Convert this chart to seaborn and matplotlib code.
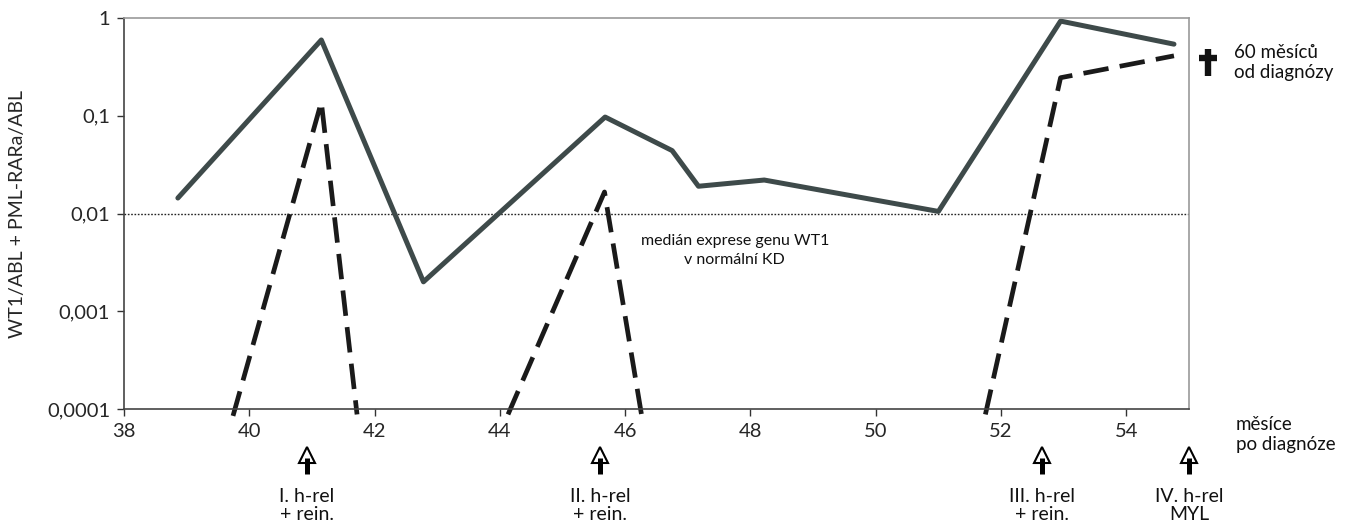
import matplotlib
matplotlib.use("Agg")
import matplotlib.pyplot as plt
import matplotlib.transforms as mtransforms
from matplotlib.lines import Line2D
import seaborn as sns
import pandas as pd

# ---- data ----
wt1_x = [38.86, 41.15, 42.78, 45.68, 46.75, 47.17, 48.22, 51.0, 52.95, 54.76]
wt1_y = [0.0144, 0.596, 0.0020, 0.097, 0.044, 0.019, 0.022, 0.0105, 0.93, 0.54]

pml_x = [39.74, 41.15, 41.72, 44.13, 45.67, 46.26, 51.75, 52.95, 54.76]
pml_y = [0.000085, 0.138, 0.000088, 0.000088, 0.0166, 0.000088, 0.000088, 0.245, 0.41]
pml_segment = [1, 1, 1, 2, 2, 2, 3, 3, 3]

median_level = 0.01

x_ticks = [38, 40, 42, 44, 46, 48, 50, 52, 54]
y_ticks = [0.0001, 0.001, 0.01, 0.1, 1]
y_ticklabels = ["0,0001", "0,001", "0,01", "0,1", "1"]

event_x = [40.92, 45.6, 52.66, 55.0]
event_labels = ["I. h-rel\n+ rein.", "II. h-rel\n+ rein.", "III. h-rel\n+ rein.", "IV. h-rel\nMYL"]

# ---- style ----
sns.set_theme(style="white")
plt.rcParams["font.family"] = ["Lato", "DejaVu Sans"]

fig = plt.figure(figsize=(13.45, 5.22), dpi=100)
ax = fig.add_axes([124 / 1345, 1 - 409 / 522, (1189 - 124) / 1345, (409 - 18) / 522])

df_wt1 = pd.DataFrame({"x": wt1_x, "y": wt1_y})
df_pml = pd.DataFrame({"x": pml_x, "y": pml_y, "seg": pml_segment})

sns.lineplot(data=df_wt1, x="x", y="y", ax=ax, color="#3e4a4a", lw=3.6,
             sort=False, estimator=None)
n_before = len(ax.lines)
sns.lineplot(data=df_pml, x="x", y="y", units="seg", ax=ax, color="#1a1a1a", lw=3.4,
             sort=False, estimator=None)
for ln in ax.lines[n_before:]:
    ln.set_linestyle((0, (5.4, 2.4)))
    ln.set_clip_on(False)
    ln.set_dash_capstyle("butt")

ax.axhline(median_level, color="#222222", lw=1.0, ls=(0, (1.2, 1.2)), zorder=1)

ax.set_yscale("log")
ax.set_xlim(38, 55)
ax.set_ylim(0.0001, 1)
ax.set_xticks(x_ticks)
ax.set_xticklabels([str(t) for t in x_ticks])
ax.set_yticks(y_ticks)
ax.set_yticklabels(y_ticklabels)
ax.minorticks_off()
ax.set_xlabel("")
ax.set_ylabel("WT1/ABL + PML-RARa/ABL", fontsize=14)
ax.yaxis.set_label_coords((26 - 124) / 1065, 0.5)

ax.tick_params(axis="both", which="major", direction="out", length=5, width=1,
               color="#333333", labelsize=14.5, pad=5, bottom=True, left=True)

for side in ["left", "bottom"]:
    ax.spines[side].set_color("#444444")
    ax.spines[side].set_linewidth(1.2)
for side in ["top", "right"]:
    ax.spines[side].set_color("#999999")
    ax.spines[side].set_linewidth(1.2)

ax.text(47.75, 0.0062, "medián exprese genu WT1\nv normální KD", ha="center", va="top",
        fontsize=11.5, linespacing=1.45, color="#111111")

# axis title at right bottom
fig.text(1236 / 1345, 1 - 416 / 522, "měsíce\npo diagnóze", ha="left", va="top",
         fontsize=13.5, linespacing=1.2, color="#111111")

# cross and label at right top
fig.add_artist(Line2D([1208 / 1345, 1208 / 1345], [1 - 49 / 522, 1 - 76 / 522],
                      transform=fig.transFigure, color="#111111", lw=4.6,
                      solid_capstyle="butt"))
fig.add_artist(Line2D([1199 / 1345, 1217 / 1345], [1 - 58 / 522, 1 - 58 / 522],
                      transform=fig.transFigure, color="#111111", lw=4.6,
                      solid_capstyle="butt"))
fig.text(1234 / 1345, 1 - 44 / 522, "60 měsíců\nod diagnózy", ha="left", va="top",
         fontsize=13.5, linespacing=1.2, color="#111111")

# event arrows below the axis
trans = mtransforms.blended_transform_factory(ax.transData, ax.transAxes)
def ya(px):
    return (409 - px) / 391

for ex, lab in zip(event_x, event_labels):
    ax.plot([ex], [ya(455)], marker="^", markersize=12, markerfacecolor="white",
            markeredgecolor="black", markeredgewidth=1.5, transform=trans,
            clip_on=False, linestyle="none", zorder=5)
    ax.add_line(Line2D([ex, ex], [ya(474), ya(458)], color="black", lw=3.6,
                       transform=trans, clip_on=False, solid_capstyle="butt",
                       zorder=6))
    ax.text(ex, ya(488), lab, transform=trans, ha="center", va="top",
            fontsize=14, linespacing=1.05, color="#111111")

fig.savefig("out.png", dpi=100)
